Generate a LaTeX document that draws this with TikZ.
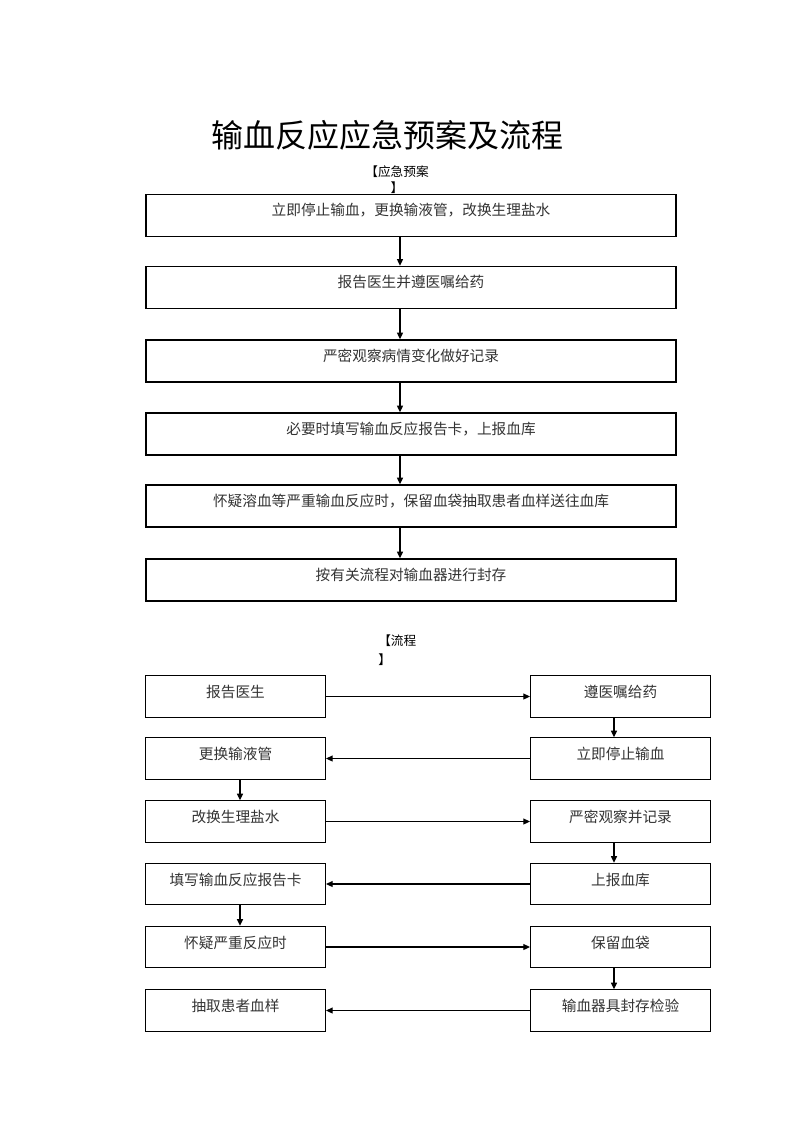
\documentclass[tikz,border=0pt]{standalone}
\usepackage{fontspec}
\setmainfont{Noto Sans CJK SC}
\usetikzlibrary{arrows.meta}

\tikzset{
    plan/.style={draw, line width=1.1pt, inner sep=0pt, minimum width=397.5pt,
        minimum height=31.5pt, text=black!80, text depth=9pt,
        font=\fontsize{11}{13}\selectfont},
    step box/.style={draw, line width=0.8pt, inner sep=0pt, minimum width=135pt,
        minimum height=31pt, text=black!80, text depth=7.5pt,
        font=\fontsize{11}{13}\selectfont},
    arr/.style={-{Triangle[length=5pt,width=4.5pt]}, line width=0.9pt},
}

\begin{document}
\begin{tikzpicture}[x=0.75pt,y=-0.75pt]
    \useasboundingbox (0,0) rectangle (800,1132);

    % title
    \node[font=\fontsize{24}{28}\selectfont] (title) at (387,135) {输血反应应急预案及流程};

    % Part 1: plan
    \node[align=center, inner sep=0pt, font=\fontsize{9.5}{12}\selectfont] (plan label) at (397,180) {【应急预案\\】};

    \coordinate (ax) at (400,0);

    \node[plan] (p1) at (411,215.5) {立即停止输血，更换输液管，改换生理盐水};
    \node[plan] (p2) at (411,287.5) {报告医生并遵医嘱给药};
    \node[plan] (p3) at (411,361) {严密观察病情变化做好记录};
    \node[plan] (p4) at (411,434) {必要时填写输血反应报告卡，上报血库};
    \node[plan] (p5) at (411,506) {怀疑溶血等严重输血反应时，保留血袋抽取患者血样送往血库};
    \node[plan] (p6) at (411,580) {按有关流程对输血器进行封存};

    % arrows down
    \draw[arr] (p1.south -| ax) -- (p2.north -| ax);
    \draw[arr] (p2.south -| ax) -- (p3.north -| ax);
    \draw[arr] (p3.south -| ax) -- (p4.north -| ax);
    \draw[arr] (p4.south -| ax) -- (p5.north -| ax);
    \draw[arr] (p5.south -| ax) -- (p6.north -| ax);

    % Part 2: flow
    \node[align=left, anchor=west, inner sep=0pt, font=\fontsize{9.5}{14}\selectfont] (flow label) at (378,650) {【流程\\】};

    \coordinate (lx) at (240,0);
    \coordinate (rx) at (614,0);

    % left column
    \node[step box] (l1) at (235.5,696.5) {报告医生};
    \node[step box] (l2) at (235.5,758.5) {更换输液管};
    \node[step box] (l3) at (235.5,821.5) {改换生理盐水};
    \node[step box] (l4) at (235.5,884) {填写输血反应报告卡};
    \node[step box] (l5) at (235.5,947) {怀疑严重反应时};
    \node[step box] (l6) at (235.5,1010.5) {抽取患者血样};

    % right column
    \node[step box] (r1) at (620.5,696.5) {遵医嘱给药};
    \node[step box] (r2) at (620.5,758.5) {立即停止输血};
    \node[step box] (r3) at (620.5,821.5) {严密观察并记录};
    \node[step box] (r4) at (620.5,884) {上报血库};
    \node[step box] (r5) at (620.5,947) {保留血袋};
    \node[step box] (r6) at (620.5,1010.5) {输血器具封存检验};

    % zigzag
    \draw[arr] (l1) -- (r1);
    \draw[arr] (r1.south -| rx) -- (r2.north -| rx);
    \draw[arr] (r2) -- (l2);
    \draw[arr] (l2.south -| lx) -- (l3.north -| lx);
    \draw[arr] (l3) -- (r3);
    \draw[arr] (r3.south -| rx) -- (r4.north -| rx);
    \draw[arr] (r4) -- (l4);
    \draw[arr] (l4.south -| lx) -- (l5.north -| lx);
    \draw[arr] (l5) -- (r5);
    \draw[arr] (r5.south -| rx) -- (r6.north -| rx);
    \draw[arr] (r6) -- (l6);
\end{tikzpicture}
\end{document}
